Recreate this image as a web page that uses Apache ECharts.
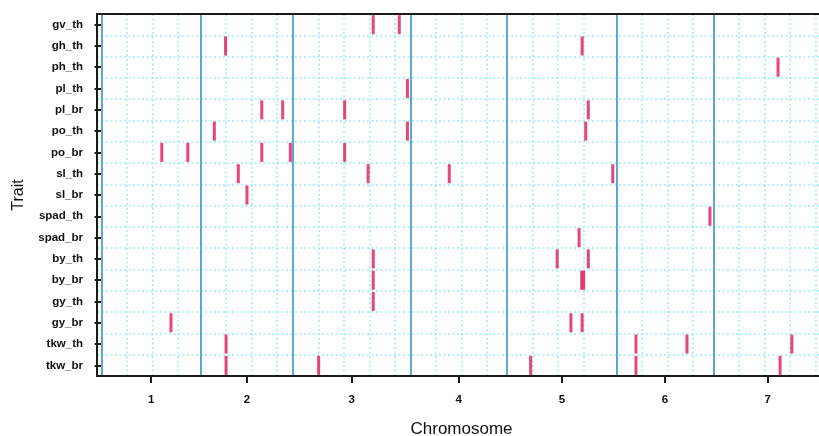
<!DOCTYPE html>
<html>
<head>
<meta charset="utf-8">
<script src="https://cdn.jsdelivr.net/npm/echarts@6/dist/echarts.min.js"></script>
<style>
    html, body { margin: 0; padding: 0; background: #fff; }
    #chart { width: 819px; height: 436px; }
</style>
</head>
<body>
<div id="chart"></div>
<script>
const traits = ['gv_th', 'gh_th', 'ph_th', 'pl_th', 'pl_br', 'po_th', 'po_br', 'sl_th', 'sl_br',
    'spad_th', 'spad_br', 'by_th', 'by_br', 'gy_th', 'gy_br', 'tkw_th', 'tkw_br'];
const chromosomes = ['1', '2', '3', '4', '5', '6', '7'];
// chromosome lengths (cM) and number of 50 cM guide lines drawn in each
const chrLen = [194, 181.5, 230, 189.5, 214.5, 189.5, 213];
const gridCount = [3, 3, 4, 3, 3, 3, 4];
const gridStep = 50;
// [trait, chromosome, position in cM]
const qtl = [
    ['gv_th', 3, 157], ['gv_th', 3, 208],
    ['gh_th', 2, 49], ['gh_th', 5, 147],
    ['ph_th', 7, 127],
    ['pl_th', 3, 224],
    ['pl_br', 2, 120], ['pl_br', 2, 161], ['pl_br', 3, 101], ['pl_br', 5, 159],
    ['po_th', 2, 27], ['po_th', 3, 224], ['po_th', 5, 154],
    ['po_br', 1, 118], ['po_br', 1, 169], ['po_br', 2, 120], ['po_br', 2, 176], ['po_br', 3, 101],
    ['sl_th', 2, 74], ['sl_th', 3, 147], ['sl_th', 4, 76], ['sl_th', 5, 207],
    ['sl_br', 2, 91],
    ['spad_th', 6, 183],
    ['spad_br', 5, 141],
    ['by_th', 3, 157], ['by_th', 5, 98], ['by_th', 5, 159],
    ['by_br', 3, 157], ['by_br', 5, 146], ['by_br', 5, 150],
    ['gy_th', 3, 157],
    ['gy_br', 1, 136], ['gy_br', 5, 125], ['gy_br', 5, 147],
    ['tkw_th', 2, 50], ['tkw_th', 6, 38], ['tkw_th', 6, 138], ['tkw_th', 7, 154],
    ['tkw_br', 2, 50], ['tkw_br', 3, 50], ['tkw_br', 5, 46], ['tkw_br', 6, 38], ['tkw_br', 7, 131]
];

// cumulative start of each chromosome on the genome axis
const chrStart = [];
let acc = 0;
chrLen.forEach(function (len) {
    chrStart.push(acc);
    acc += len;
});
const chrMid = chrStart.map(function (s, i) { return s + chrLen[i] / 2; });

const guideLines = [];
chrStart.forEach(function (s, i) {
    for (let k = 1; k <= gridCount[i]; k++) {
        guideLines.push({ xAxis: s + k * gridStep });
    }
});

const points = qtl.map(function (q) {
    return [chrStart[q[1] - 1] + q[2], traits.indexOf(q[0])];
});

const chart = echarts.init(document.getElementById('chart'));
const option = {
    animation: false,
    grid: {
        left: 97,
        right: -7,
        top: 14,
        bottom: 60,
        outerBoundsMode: 'none',
        containLabel: false,
        show: true,
        borderColor: '#1a1a1a',
        borderWidth: 2,
        z: 6
    },
    xAxis: {
        type: 'value',
        min: -9,
        max: 1420,
        name: 'Chromosome',
        nameLocation: 'middle',
        nameGap: 45,
        nameTextStyle: { fontFamily: 'Liberation Sans', fontSize: 17, color: '#111' },
        axisLine: { show: true, lineStyle: { color: '#1a1a1a', width: 2 } },
        axisTick: {
            show: true,
            customValues: chrMid,
            length: 7,
            lineStyle: { color: '#1a1a1a', width: 2 }
        },
        axisLabel: {
            customValues: chrMid,
            margin: 18,
            fontFamily: 'Liberation Sans',
            fontSize: 11.5,
            fontWeight: 'bold',
            color: '#111',
            formatter: function (v) {
                const i = chrMid.findIndex(function (m) { return Math.abs(m - v) < 0.01; });
                return i >= 0 ? chromosomes[i] : '';
            }
        },
        splitLine: { show: false }
    },
    yAxis: {
        type: 'category',
        data: traits,
        inverse: true,
        name: 'Trait',
        nameLocation: 'middle',
        nameGap: 70,
        nameTextStyle: { fontFamily: 'Liberation Sans', fontSize: 16, color: '#111' },
        axisLine: { show: true, lineStyle: { color: '#1a1a1a', width: 2 } },
        axisTick: {
            show: true,
            alignWithLabel: true,
            length: 7,
            lineStyle: { color: '#1a1a1a', width: 2 }
        },
        axisLabel: {
            margin: 14,
            fontFamily: 'Liberation Sans',
            fontSize: 11.5,
            fontWeight: 'bold',
            color: '#111'
        },
        splitLine: {
            show: true,
            lineStyle: { color: '#a0eaf2', width: 1.5, type: [2, 2.5] }
        }
    },
    series: [
        {
            type: 'line',
            data: [],
            z: 1,
            markLine: {
                silent: true,
                z: 1,
                symbol: 'none',
                label: { show: false },
                lineStyle: { color: '#a0eaf2', width: 1.5, type: [2, 2.5] },
                data: guideLines
            }
        },
        {
            type: 'line',
            data: [],
            z: 2,
            markLine: {
                silent: true,
                z: 2,
                symbol: 'none',
                label: { show: false },
                lineStyle: { color: '#5ea7d3', width: 2, type: 'solid' },
                data: chrStart.map(function (s) { return { xAxis: s }; })
            }
        },
        {
            type: 'scatter',
            z: 4,
            symbol: 'rect',
            symbolSize: [3, 19],
            itemStyle: { color: '#e0185a' },
            data: points
        }
    ]
};
chart.setOption(option);
</script>
</body>
</html>
